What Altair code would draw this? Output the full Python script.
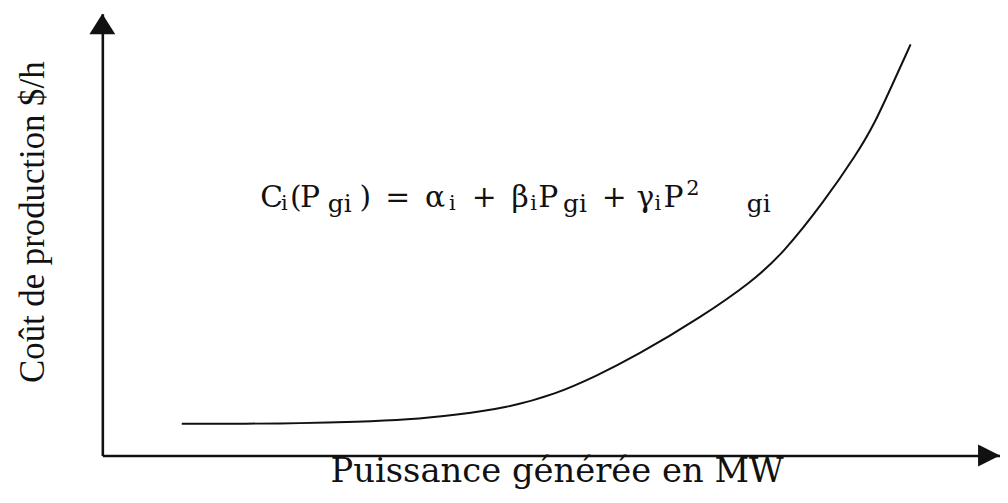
import altair as alt
import pandas as pd

# Curve (arbitrary units, axes 0..100)
power = [8.85, 16.26, 21.79, 28.43, 33.96, 39.49, 45.02, 50.55, 54.98, 59.40,
         66.81, 72.35, 75.77, 80.42, 84.07, 85.95, 87.83, 90.04]
cost = [7.19, 7.19, 7.30, 7.64, 8.09, 9.21, 10.79, 13.93, 17.98, 22.47,
        31.46, 39.33, 45.62, 57.53, 68.31, 74.83, 83.15, 93.03]

x_title = "Puissance générée en MW"
y_title = "Coût de production $/h"

# Formula annotation pieces
formula_pieces = ["C", "i", "(", "P", "gi", ")", "=", "α", "i", "+",
                  "β", "i", "P", "gi", "+", "γ", "i", "P", "2", "gi"]
formula_roles = ["m", "i", "m", "m", "s", "m", "m", "m", "i", "m",
                 "m", "i", "m", "s", "m", "m", "i", "m", "p", "s"]
formula_anchor = (17.59, 56.18)

# style: horizontal offsets of each piece (px)
piece_dx = [0, 21, 30, 40, 68, 100, 126, 166, 190, 213,
            253, 272, 280, 305, 344, 379, 397, 406, 429, 490]

W, H = 904, 445
INK = "#111111"

xs = alt.Scale(domain=[0, 100], nice=False, zero=False)
ys = alt.Scale(domain=[0, 100], nice=False, zero=False)
ax = alt.Axis(labels=False, ticks=False, grid=False, title=None,
              domainColor=INK, domainWidth=2.6)

df = pd.DataFrame({"x": power, "y": cost})
curve = alt.Chart(df).mark_line(interpolate="basis", color=INK, strokeWidth=2).encode(
    x=alt.X("x:Q", scale=xs, axis=ax),
    y=alt.Y("y:Q", scale=ys, axis=ax),
)

layers = [curve]

# arrowheads at axis ends
arrow_y = alt.Chart(pd.DataFrame({"x": [0], "y": [100]})).mark_point(
    shape="M0,0L1,1.6L-1,1.6Z", size=676, filled=True, color=INK, opacity=1, strokeWidth=0
).encode(x=alt.X("x:Q", scale=xs, axis=ax), y=alt.Y("y:Q", scale=ys, axis=ax))
arrow_x = alt.Chart(pd.DataFrame({"x": [100], "y": [0]})).mark_point(
    shape="M0,0L-1.7,-0.85L-1.7,0.85Z", size=676, filled=True, color=INK, opacity=1, strokeWidth=0
).encode(x=alt.X("x:Q", scale=xs, axis=ax), y=alt.Y("y:Q", scale=ys, axis=ax))
layers += [arrow_y, arrow_x]

# role -> (font size, vertical offset)
role_style = {"m": (30, 0), "s": (25, 5), "i": (21, 3), "p": (21, -12)}
for t, r, dx in zip(formula_pieces, formula_roles, piece_dx):
    fs, dy = role_style[r]
    layers.append(
        alt.Chart(pd.DataFrame({"x": [formula_anchor[0]], "y": [formula_anchor[1]], "t": [t]}))
        .mark_text(font="DejaVu Serif", fontSize=fs, align="left", baseline="alphabetic",
                   dx=dx, dy=dy, color=INK)
        .encode(x=alt.X("x:Q", scale=xs, axis=ax), y=alt.Y("y:Q", scale=ys, axis=ax), text="t:N")
    )

# axis titles
layers.append(
    alt.Chart(pd.DataFrame({"t": [y_title]})).mark_text(
        font="Liberation Serif", fontSize=35, angle=270, align="center", baseline="middle", color=INK
    ).encode(x=alt.value(-70), y=alt.value(210), text="t:N")
)
layers.append(
    alt.Chart(pd.DataFrame({"t": [x_title]})).mark_text(
        font="DejaVu Serif", fontSize=34, align="center", baseline="alphabetic", color=INK
    ).encode(x=alt.value(458), y=alt.value(472), text="t:N")
)

chart = alt.layer(*layers).properties(
    width=W, height=H,
    autosize=alt.AutoSizeParams(type="none"),
    padding={"left": 95, "top": 4, "right": 0, "bottom": 34},
    background="white",
).configure_view(stroke=None)

chart.save("out.html", embed_options={"renderer": "svg", "actions": False})
